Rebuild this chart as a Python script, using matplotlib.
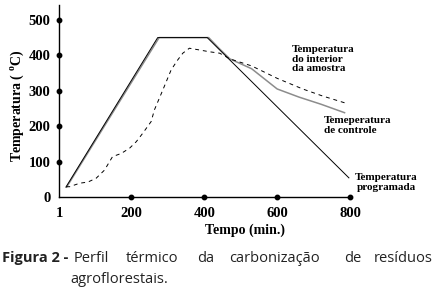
import matplotlib
matplotlib.use("Agg")
import matplotlib.pyplot as plt

# Data (minutes, degrees C)
prog_t = [20, 272, 408, 797]
prog_T = [28, 450, 450, 54]

ctrl_t = [22, 276, 412, 440, 470, 530, 600, 660, 720, 785]
ctrl_T = [28, 450, 450, 420, 390, 362, 305, 282, 262, 238]

samp_t = [21, 30, 58, 80, 103, 126, 148, 172, 195, 213, 231, 254, 263, 286, 309,
          327, 341, 359, 387, 414, 442, 470, 530, 600, 670, 725, 785]
samp_T = [29, 29, 39, 42, 53, 76, 114, 123, 138, 156, 180, 213, 246, 302, 359,
          387, 406, 420, 415, 410, 406, 390, 370, 335, 305, 285, 266]

xticks = [1, 200, 400, 600, 800]
yticks = [0, 100, 200, 300, 400, 500]

W, H = 442, 289
fig = plt.figure(figsize=(W / 100, H / 100), dpi=100)
ax = fig.add_axes([59 / W, 1 - 197 / H, 291 / W, 192 / H])

serif = ["Liberation Serif", "DejaVu Serif"]
plt.rcParams['mathtext.fontset'] = 'custom'
plt.rcParams['mathtext.bf'] = 'Liberation Serif:bold'
plt.rcParams['mathtext.rm'] = 'Liberation Serif:bold'

ax.plot(ctrl_t, ctrl_T, color="#8c8c8c", lw=1.1)
ax.plot(prog_t, prog_T, color="black", lw=0.7)
ax.plot(samp_t, samp_T, color="black", lw=0.7, dashes=(4, 4))

ax.set_xlim(1, 800)
ax.set_ylim(0, 542)
for s in ["top", "right"]:
    ax.spines[s].set_visible(False)
for s in ["left", "bottom"]:
    ax.spines[s].set_linewidth(1.0)

ax.set_xticks(xticks)
ax.set_yticks(yticks)
ax.tick_params(axis="x", length=0, pad=7)
ax.tick_params(axis="y", length=0, pad=6)
for lab in ax.get_xticklabels() + ax.get_yticklabels():
    lab.set_fontfamily(serif)
    lab.set_fontweight("bold")
    lab.set_fontsize(10.5)

# dot markers on the axes
ax.plot([1] * (len(yticks) - 1), yticks[1:], "o", color="black", ms=3.2, clip_on=False)
ax.plot(xticks[1:], [0] * (len(xticks) - 1), "o", color="black", ms=3.2, clip_on=False)

fig.text(245 / W, 1 - 230 / H, "Tempo (min.)", ha="center", va="center",
         family=serif, weight="bold", fontsize=10)
fig.text(17 / W, 1 - 106 / H, r"Temperatura ( $^{\mathbf{o}}$C)", ha="center", va="center",
         rotation=90, family=serif, weight="bold", fontsize=10)

kw = dict(family=serif, weight="bold", fontsize=8, linespacing=1.1)
fig.text(292 / W, 1 - 45 / H, "Temperatura\ndo interior\nda amostra", ha="left", va="top", **kw)
fig.text(324 / W, 1 - 116 / H, "Temeperatura\nde controle", ha="left", va="top", **kw)
fig.text(386 / W, 1 - 173 / H, "Temperatura\nprogramada", ha="center", va="top",
         multialignment="center", **kw)

# caption (justified)
cap = ["Perfil", "térmico", "da", "carbonização", "de", "resíduos"]
cap_x = [74, 126, 197, 229, 344, 374]
sans = ["Open Sans", "DejaVu Sans"]
ccol = "#222222"
fig.text(2 / W, 1 - 262 / H, "Figura 2 -", ha="left", va="baseline", family=sans,
         weight="bold", fontsize=10.5, color=ccol)
for w, x in zip(cap, cap_x):
    fig.text(x / W, 1 - 262 / H, w, ha="left", va="baseline", family=sans,
             fontsize=10.5, color=ccol)
fig.text(70 / W, 1 - 283 / H, "agroflorestais.", ha="left", va="baseline", family=sans,
         fontsize=10.5, color=ccol)

fig.savefig("out.png", dpi=100)
